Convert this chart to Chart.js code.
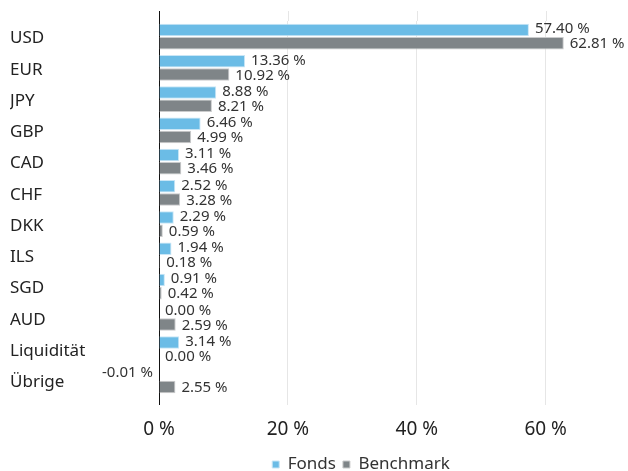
<!DOCTYPE html>
<html>
<head>
<meta charset="utf-8">
<script src="https://cdn.jsdelivr.net/npm/chart.js@4"></script>
<style>
  html, body { margin: 0; padding: 0; background: #fff; }
</style>
</head>
<body>
<canvas id="chart" width="628" height="471"></canvas>
<script>
// currency allocation
var categories = ['USD', 'EUR', 'JPY', 'GBP', 'CAD', 'CHF', 'DKK', 'ILS', 'SGD', 'AUD', 'Liquidität', 'Übrige'];
var fonds = [57.40, 13.36, 8.88, 6.46, 3.11, 2.52, 2.29, 1.94, 0.91, 0.00, 3.14, -0.01];
var benchmark = [62.81, 10.92, 8.21, 4.99, 3.46, 3.28, 0.59, 0.18, 0.42, 2.59, 0.00, 2.55];
var xTicks = [0, 20, 40, 60];

var FONT = '"Noto Sans", "Open Sans", sans-serif';

// value labels at the end of each bar
var valueLabels = {
    id: 'valueLabels',
    afterDatasetsDraw: function (chart) {
        var ctx = chart.ctx;
        ctx.save();
        ctx.font = '15px ' + FONT;
        ctx.fillStyle = '#333';
        ctx.textBaseline = 'middle';
        chart.data.datasets.forEach(function (ds, i) {
            var meta = chart.getDatasetMeta(i);
            meta.data.forEach(function (bar, j) {
                var v = ds.data[j];
                var txt = v.toFixed(2) + ' %';
                var dy = i === 0 ? -1 : 1;
                if (v < 0) {
                    ctx.textAlign = 'right';
                    ctx.fillText(txt, bar.x - 6, bar.y + dy);
                } else {
                    ctx.textAlign = 'left';
                    ctx.fillText(txt, bar.x + 6, bar.y + dy);
                }
            });
        });
        ctx.restore();
    }
};

// grid lines reach a bit above the plot area, legend nudged
var gridTop = {
    id: 'gridTop',
    afterLayout: function (chart) {
        var lg = chart.legend;
        lg.left -= 30; lg.right -= 30;
        lg.top += 8; lg.bottom += 8;
    },
    beforeDatasetsDraw: function (chart) {
        var ctx = chart.ctx, x = chart.scales.x, top = chart.chartArea.top;
        ctx.save();
        ctx.lineWidth = 1;
        xTicks.forEach(function (t) {
            var px = Math.round(x.getPixelForValue(t)) + 0.5;
            ctx.strokeStyle = t === 0 ? '#111' : '#e6e6e6';
            ctx.beginPath();
            ctx.moveTo(px, top - 10);
            ctx.lineTo(px, top);
            ctx.stroke();
        });
        ctx.restore();
    }
};

var ctx = document.getElementById('chart');
new Chart(ctx, {
    type: 'bar',
    data: {
        labels: categories,
        datasets: [{
            label: 'Fonds',
            data: fonds,
            backgroundColor: '#6bbce6',
            borderColor: '#c9e6f6',
            borderWidth: 1,
            borderSkipped: 'start'
        }, {
            label: 'Benchmark',
            data: benchmark,
            backgroundColor: '#7f8588',
            borderColor: '#cacbcc',
            borderWidth: 1,
            borderSkipped: 'start'
        }]
    },
    options: {
        indexAxis: 'y',
        responsive: false,
        animation: false,
        layout: { padding: { top: 21, right: 5, left: 10, bottom: 0 } },
        datasets: { bar: { categoryPercentage: 0.84, barPercentage: 0.96 } },
        scales: {
            x: {
                min: 0,
                max: 72,
                afterBuildTicks: function (scale) {
                    scale.ticks = xTicks.map(function (v) { return { value: v }; });
                },
                afterFit: function (scale) { scale.height = 45; },
                ticks: {
                    color: '#222',
                    font: { family: FONT, size: 19 },
                    padding: 13,
                    callback: function (v) { return v + ' %'; }
                },
                grid: {
                    color: function (c) { return c.tick && c.tick.value === 0 ? '#111' : '#e6e6e6'; },
                    tickLength: 9,
                    tickColor: function (c) { return c.tick && c.tick.value === 0 ? '#111' : '#e6e6e6'; }
                },
                border: { display: false }
            },
            y: {
                afterFit: function (scale) { scale.width = 149; },
                ticks: {
                    color: '#222',
                    crossAlign: 'far',
                    labelOffset: 2,
                    font: { family: FONT, size: 17 },
                    padding: 0
                },
                grid: { display: false, drawTicks: false },
                border: { display: false }
            }
        },
        plugins: {
            legend: {
                position: 'bottom',
                fullSize: false,
                maxHeight: 30,
                labels: {
                    boxWidth: 7,
                    boxHeight: 7,
                    padding: 7,
                    color: '#333',
                    font: { family: FONT, size: 17 }
                }
            },
            tooltip: { enabled: false }
        }
    },
    plugins: [gridTop, valueLabels]
});
</script>
</body>
</html>
